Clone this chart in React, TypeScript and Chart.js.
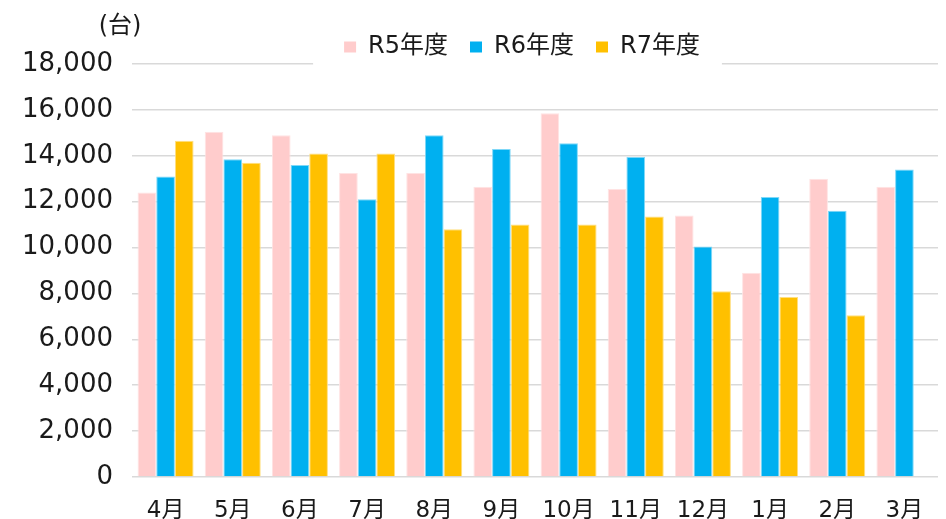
import React, { useEffect, useRef } from 'react';
import { Chart, registerables } from 'chart.js';

Chart.register(...registerables);

const FONT = "'DejaVu Sans', 'Noto Sans CJK JP', sans-serif";

const categories = ['4月', '5月', '6月', '7月', '8月', '9月', '10月', '11月', '12月', '1月', '2月', '3月'];
const seriesNames = ['R5年度', 'R6年度', 'R7年度'];
const r5Values = [12400, 15050, 14900, 13250, 13250, 12650, 15850, 12550, 11400, 8900, 13000, 12650];
const r6Values = [13100, 13850, 13600, 12100, 14900, 14300, 14550, 13950, 10050, 12200, 11600, 13400];
const r7Values: (number | null)[] = [14650, 13700, 14100, 14100, 10800, 11000, 11000, 11350, 8100, 7850, 7050, null];
const yMin = 0;
const yMax = 18000;
const yStep = 2000;
const unitLabel = '(台)';

const colors = ['#FFCCCC', '#00B0F0', '#FFC000'];
const edgeColors = ['#FFE3E3', '#7FD8F8', '#FFDF80'];

// Move the legend so that it sits where the reference has it (centred a little right of the canvas centre)
const legendPlacePlugin = {
  id: 'legendPlace',
  afterLayout(chart: any) {
    const lg = chart.legend;
    if (!lg) return;
    const ca = chart.chartArea;
    const w = ca.right - 106;
    lg.left = ca.right - w;
    lg.right = ca.right;
    lg.width = w;
    lg.top += 5;
    lg.bottom += 5;
  },
};

const legendGapPlugin = {
  id: 'legendGap',
  beforeDatasetsDraw(chart: any) {
    const boxes = chart.legend?.legendHitBoxes;
    if (!boxes || !boxes.length) return;
    const left = Math.min(...boxes.map((b: any) => b.left)) - 31;
    const right = Math.max(...boxes.map((b: any) => b.left + b.width)) + 22;
    const { ctx, chartArea } = chart;
    ctx.save();
    ctx.fillStyle = '#ffffff';
    ctx.fillRect(left, chartArea.top - 4, right - left, 8);
    ctx.restore();
  },
};

const unitPlugin = {
  id: 'unitLabel',
  afterDraw(chart: any) {
    const { ctx, chartArea } = chart;
    ctx.save();
    ctx.font = `24px ${FONT}`;
    ctx.fillStyle = '#1a1a1a';
    ctx.textAlign = 'center';
    ctx.textBaseline = 'middle';
    ctx.fillText(unitLabel, chartArea.left - 12, chartArea.top - 37);
    ctx.restore();
  },
};

export default function App() {
  const canvasRef = useRef<HTMLCanvasElement | null>(null);

  useEffect(() => {
    if (!canvasRef.current) return;
    const values = [r5Values, r6Values, r7Values];
    const chart = new Chart(canvasRef.current, {
      type: 'bar',
      data: {
        labels: categories,
        datasets: seriesNames.map((name, i) => ({
          label: name,
          data: values[i],
          backgroundColor: colors[i],
          borderColor: edgeColors[i],
          borderWidth: 1,
          borderSkipped: 'bottom',
          categoryPercentage: 0.834,
          barPercentage: 1,
        })),
      },
      options: {
        responsive: false,
        devicePixelRatio: 1,
        animation: false,
        layout: { padding: { left: 0, right: 8, top: 8, bottom: 0 } },
        plugins: {
          legend: {
            position: 'top',
            align: 'center',
            labels: {
              font: { family: FONT, size: 24 },
              color: '#1a1a1a',
              boxWidth: 12,
              boxHeight: 11,
              padding: 22,
              generateLabels: (chart: any) =>
                chart.data.datasets.map((ds: any, i: number) => ({
                  text: ds.label,
                  fillStyle: colors[i],
                  strokeStyle: colors[i],
                  lineWidth: 0,
                  hidden: false,
                  datasetIndex: i,
                  fontColor: '#1a1a1a',
                })),
            },
          },
          tooltip: { enabled: false },
          title: { display: false },
        },
        scales: {
          x: {
            grid: { display: false },
            border: { display: false },
            ticks: {
              font: { family: FONT, size: 23 },
              color: '#1a1a1a',
              padding: 12,
              maxRotation: 0,
              autoSkip: false,
            },
            afterFit(scale: any) {
              scale.height = 42;
            },
          },
          y: {
            min: yMin,
            max: yMax,
            grid: { color: '#D9D9D9', lineWidth: 1.5, drawTicks: false },
            border: { display: false },
            ticks: {
              stepSize: yStep,
              font: { family: FONT, size: 26 },
              color: '#1a1a1a',
              padding: 19,
              callback: (v: any) => Number(v).toLocaleString('en-US'),
            },
            afterFit(scale: any) {
              scale.width = 132;
            },
          },
        },
      },
      plugins: [legendPlacePlugin, legendGapPlugin, unitPlugin],
    });
    return () => chart.destroy();
  }, []);

  return (
    <div style={{ position: 'absolute', left: 0, top: 0, width: 946, height: 519, background: '#fff' }}>
      <canvas ref={canvasRef} width={946} height={519} />
    </div>
  );
}
